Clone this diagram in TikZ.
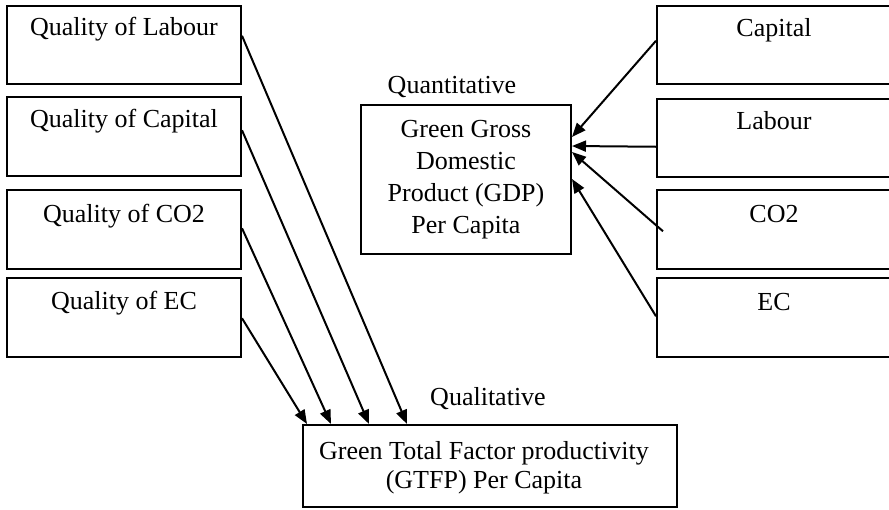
\documentclass[tikz,border=0pt]{standalone}
\usepackage{fontspec}
\setmainfont{Liberation Serif}
\usetikzlibrary{arrows.meta,calc}
\begin{document}
\begin{tikzpicture}[x=1pt,y=-1pt,
  box/.style={draw, line width=2pt, rectangle, inner sep=0pt,
              minimum width=234pt, minimum height=78.5pt},
  lbl/.style={font=\fontsize{26}{32}\selectfont, inner sep=0pt, anchor=base},
  arr/.style={line width=2pt, -{Triangle[length=14pt,width=11pt]}}]
\useasboundingbox (0,0) rectangle (889,509);

% quality inputs (left column)
\node[box] (ql)  at (124,45)    {};
\node[box] (qc)  at (124,136.5) {};
\node[box] (qco) at (124,229.5) {};
\node[box] (qec) at (124,317.5) {};
\node[lbl] at ($(ql.north)+(0,31)$)  {Quality of Labour};
\node[lbl] at ($(qc.north)+(0,31)$)  {Quality of Capital};
\node[lbl] at ($(qco.north)+(0,33)$) {Quality of CO2};
\node[lbl] at ($(qec.north)+(0,32)$) {Quality of EC};

% quantity inputs (right column)
\node[box] (rc)  at (774,45)    {};
\node[box] (rl)  at (774,138)   {};
\node[box] (rco) at (774,229.5) {};
\node[box] (rec) at (774,317.5) {};
\node[lbl] at ($(rc.north)+(0,32)$)  {Capital};
\node[lbl] at ($(rl.north)+(0,32)$)  {Labour};
\node[lbl] at ($(rco.north)+(0,33)$) {CO2};
\node[lbl] at ($(rec.north)+(0,33)$) {EC};

% outcome boxes
\node[draw, line width=2pt, inner sep=0pt, minimum width=210pt, minimum height=149pt,
      align=center, font=\fontsize{26}{32}\selectfont] (gdp) at (466,179.5)
  {Green Gross\\Domestic\\Product (GDP)\\Per Capita};
\node[draw, line width=2pt, inner sep=0pt, minimum width=374pt, minimum height=82pt]
  (gtfp) at (490,466) {};
\node[inner sep=0pt, align=center, font=\fontsize{26}{29}\selectfont] (gtfpt) at (484,467.5)
  {Green Total Factor productivity\\(GTFP) Per Capita};

\node[lbl] (qn) at (452,93)  {Quantitative};
\node[lbl] (qq) at (488,405) {Qualitative};

% qualitative links
\draw[arr] ($(ql.north east)+(0,31)$)  -- ($(gtfp.north west)+(105,0)$);
\draw[arr] ($(qc.north east)+(0,34)$)  -- ($(gtfp.north west)+(67,0)$);
\draw[arr] ($(qco.north east)+(0,39)$) -- ($(gtfp.north west)+(29,0)$);
\draw[arr] ($(qec.north east)+(0,41)$) -- ($(gtfp.north west)+(5,0)$);

% quantitative links
\draw[arr] ($(rc.north west)+(0,36)$)  -- ($(gdp.north east)+(0,33)$);
\draw[arr] ($(rl.north west)+(0,49)$)  -- ($(gdp.north east)+(0,42)$);
\draw[arr] ($(rco.north west)+(7,42)$) -- ($(gdp.north east)+(0,48)$);
\draw[arr] ($(rec.north west)+(0,39)$) -- ($(gdp.north east)+(0,75)$);
\end{tikzpicture}
\end{document}
